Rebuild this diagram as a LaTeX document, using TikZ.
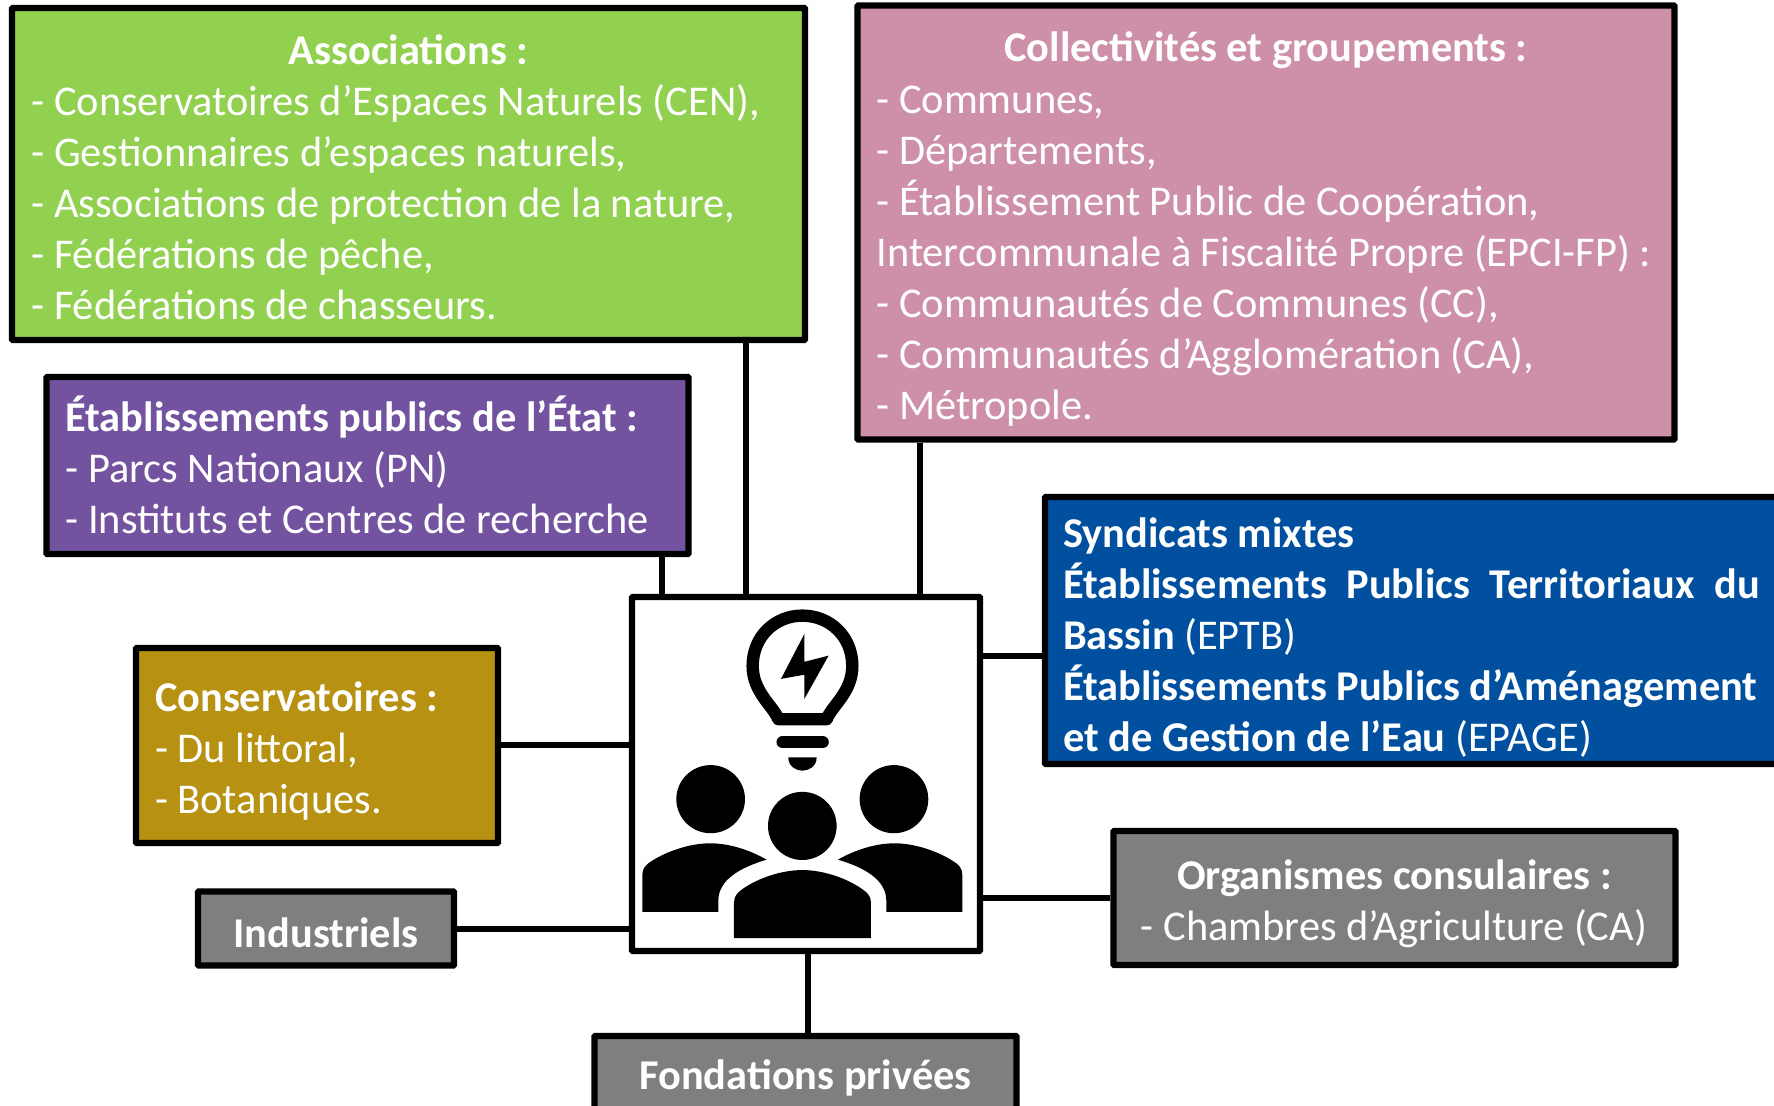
\documentclass[tikz,border=0pt]{standalone}
\usepackage{fontspec}
\setmainfont{Carlito}
\newcommand{\panelfont}{\fontsize{21.2}{25.55}\selectfont}
\newcommand{\panelspace}{\frenchspacing\spaceskip 4.8pt plus 3pt\relax\xspaceskip\spaceskip}
\tikzset{
  panel/.style={draw=black,line width=3.2pt,rectangle,rounded corners=0.5pt,text=white,anchor=center,inner ysep=0pt,font=\panelfont,execute at begin node=\panelspace},
  link/.style={draw=black,line width=3.2pt},
  glyph/.style={fill=black,draw=none},
  bulbline/.style={draw=black,line width=6.2pt,line join=round,fill=none}
}
\definecolor{cgreen}{HTML}{92D050}
\definecolor{cpink}{HTML}{CE8FA8}
\definecolor{cpurple}{HTML}{7353A0}
\definecolor{cblue}{HTML}{00509F}
\definecolor{cgold}{HTML}{B69112}
\definecolor{cgray}{HTML}{7F7F7F}
\begin{document}
\begin{tikzpicture}[x=0.5pt,y=-0.5pt]
\useasboundingbox (0,0) rectangle (1774,1105);
\fill[white] (0,0) rectangle (1774,1105);
% boxes
\node[panel,fill=white,minimum width=174pt,minimum height=177pt] (center) at (806,774) {};
\node[panel,fill=cgreen,minimum width=396.5pt,minimum height=166pt,inner xsep=9.5pt,text width=377pt] (assoc) at (408.5,174) {%
{\centering\textbf{Associations :}\par}\raggedright
- Conservatoires d’Espaces Naturels (CEN),\par
- Gestionnaires d’espaces naturels,\par
- Associations de protection de la nature,\par
- Fédérations de pêche,\par
- Fédérations de chasseurs.\par\vspace*{-3.4pt}};
\node[panel,fill=cpink,minimum width=408.5pt,minimum height=217pt,inner xsep=9.5pt,text width=389.5pt] (coll) at (1266,222.5) {%
{\centering\textbf{Collectivités et groupements :}\par}\raggedright
- Communes,\par
- Départements,\par
- Établissement Public de Coopération,\par
\mbox{Intercommunale à Fiscalité Propre (EPCI-FP) :}\par
- Communautés de Communes (CC),\par
- Communautés d’Agglomération (CA),\par
- Métropole.\par\vspace*{-6.8pt}};
\node[panel,fill=cpurple,minimum width=321pt,minimum height=88.5pt,inner xsep=9.5pt,text width=302pt] (etab) at (367.5,465.5) {%
\raggedright\textbf{Établissements publics de l’État :}\par
- Parcs Nationaux (PN)\par
- Instituts et Centres de recherche\par\vspace*{0.4pt}};
\node[panel,fill=cgold,minimum width=181pt,minimum height=97.5pt,inner xsep=9.5pt,text width=162pt] (cons) at (317,745.5) {%
\raggedright\textbf{Conservatoires :}\par
- Du littoral,\par
- Botaniques.\par\vspace*{-5.7pt}};
\node[panel,fill=cgray,minimum width=128pt,minimum height=37pt,inner xsep=2pt] (indu) at (326,928.5) {\raisebox{-2.3pt}[\height][\depth]{\textbf{Industriels}}};
\node[panel,fill=cgray,minimum width=281pt,minimum height=67pt,inner xsep=9pt,text width=263pt] (orga) at (1394.5,898) {%
{\centering\textbf{Organismes consulaires :}\par}\raggedright
\hspace*{4.7pt}- Chambres d’Agriculture (CA)\par\vspace*{-5.7pt}};
\node[panel,fill=cgray,minimum width=211pt,minimum height=40pt,inner xsep=2pt] (fond) at (805.5,1076) {\raisebox{-1.1pt}[\height][\depth]{\textbf{Fondations privées}}};
\node[panel,fill=cblue,minimum width=380pt,minimum height=133.5pt,inner xsep=9pt,text width=362pt] (blue) at (1425,630.5) {%
\raggedright\textbf{Syndicats mixtes}\par
\makebox[348.5pt][s]{\textbf{Établissements Publics Territoriaux du}}\par
\textbf{Bassin} (EPTB)\par
\textbf{Établissements Publics d’Aménagement}\par
\textbf{et de Gestion de l’Eau} (EPAGE)\par\vspace*{-6.8pt}};
% connector x / y positions
\coordinate (xe) at (662,0);
\coordinate (xa) at (746,0);
\coordinate (xc) at (920,0);
\coordinate (xf) at (808,0);
\coordinate (yc) at (0,745);
\coordinate (yi) at (0,929);
\coordinate (yb) at (0,656);
\coordinate (yo) at (0,898);
\draw[link] (xe |- etab.south) -- (xe |- center.north);
\draw[link] (xa |- assoc.south) -- (xa |- center.north);
\draw[link] (xc |- coll.south) -- (xc |- center.north);
\draw[link] (xf |- center.south) -- (xf |- fond.north);
\draw[link] (cons.east |- yc) -- (center.west |- yc);
\draw[link] (indu.east |- yi) -- (center.west |- yi);
\draw[link] (center.east |- yb) -- (blue.west |- yb);
\draw[link] (center.east |- yo) -- (orga.west |- yo);
% icon
\begin{scope}[shift={(600,560)},xscale=0.3333,yscale=0.3476]
\draw[bulbline] (535,458) .. controls (520,420) and (458,380) .. (458,305) .. controls (458,220) and (525,160) .. (607,160) .. controls (690,160) and (757,220) .. (757,305) .. controls (757,380) and (695,420) .. (680,458) -- cycle;
\fill[glyph] (613,213) -- (543,342) -- (613,330) -- (613,400) -- (686,275) -- (613,293) -- cycle;
\draw[bulbline,line cap=round] (548,524) -- (668,524);
\fill[glyph] (565,568) -- (650,568) .. controls (650,595) and (625,606) .. (607,606) .. controls (590,606) and (565,595) .. (565,568) -- cycle;
\fill[glyph] (332,688) ellipse [x radius=103,y radius=98];
\fill[glyph] (882,688) ellipse [x radius=103,y radius=98];
\fill[glyph] (607,765) ellipse [x radius=103,y radius=98];
\fill[glyph] (127,1012) -- (127,905) .. controls (127,885) and (140,875) .. (155,866) .. controls (200,838) and (270,815) .. (330,815) .. controls (390,815) and (450,835) .. (500,862) .. controls (420,885) and (355,920) .. (355,980) -- (355,1012) -- cycle;
\fill[glyph] (1087,1012) -- (1087,905) .. controls (1087,885) and (1074,875) .. (1059,866) .. controls (1014,838) and (944,815) .. (884,815) .. controls (824,815) and (764,835) .. (714,862) .. controls (794,885) and (859,920) .. (859,980) -- (859,1012) -- cycle;
\fill[glyph] (402,1088) -- (402,985) .. controls (402,965) and (415,955) .. (430,945) .. controls (475,915) and (545,892) .. (607,892) .. controls (669,892) and (739,915) .. (784,945) .. controls (799,955) and (813,965) .. (813,985) -- (813,1088) -- cycle;
\end{scope}
\end{tikzpicture}
\end{document}
